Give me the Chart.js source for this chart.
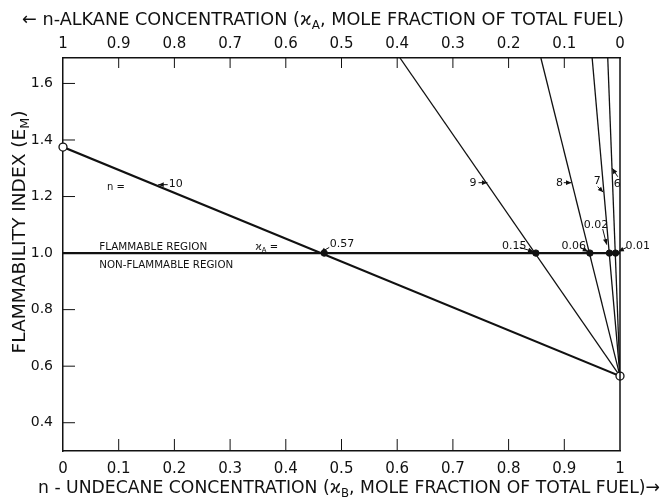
<!DOCTYPE html>
<html>
<head>
<meta charset="utf-8">
<script src="https://cdn.jsdelivr.net/npm/chart.js@4.4.0/dist/chart.umd.min.js"></script>
<style>
  html, body { margin: 0; padding: 0; background: #fff; }
  #wrap { width: 664px; height: 498px; }
</style>
</head>
<body>
<div id="wrap"><canvas id="graficoInflamabilidade"></canvas></div>
<script>
/* ---------------------------------------------------------
   Flammability index of n-alkane / n-undecane mixtures
   --------------------------------------------------------- */

// carbon number of the n-alkane for each line
const carbonNumbers = [10, 9, 8, 7, 6];
// where each line enters the plot (x_B, E_M)
const lineStartX = [0, 0.605, 0.858, 0.950, 0.978];
const lineStartY = [1.375, 1.69, 1.69, 1.69, 1.69];
// all lines end at pure n-undecane
const undecaneX = 1;
const undecaneY = 0.565;
// crossings of the E_M = 1 boundary and their x_A labels
const boundaryY = 1.0;
const crossX = [0.469, 0.849, 0.946, 0.981, 0.992];
const crossLabels = ['0.57', '0.15', '0.06', '0.02', '0.01'];

const xTicks = [0, 0.1, 0.2, 0.3, 0.4, 0.5, 0.6, 0.7, 0.8, 0.9, 1];
const yTicks = [0.4, 0.6, 0.8, 1.0, 1.2, 1.4, 1.6];

const tinta = '#111';
const fonte = 'DejaVu Sans';
Chart.defaults.font.family = fonte;
Chart.defaults.color = tinta;

const fmtX = v => (v === 0 ? '0' : v === 1 ? '1' : v.toFixed(1));

/* --------- datasets --------- */
const datasets = [];
datasets.push({
  label: 'boundary',
  data: [{ x: 0, y: boundaryY }, { x: 1, y: boundaryY }],
  borderWidth: 2.2, order: 2
});
carbonNumbers.forEach((n, i) => {
  datasets.push({
    label: 'n = ' + n,
    data: [{ x: lineStartX[i], y: lineStartY[i] }, { x: undecaneX, y: undecaneY }],
    borderWidth: i === 0 ? 2.2 : 1.3, order: 2
  });
});
datasets.push({
  label: 'crossings', showLine: false, clip: false, order: 1,
  data: crossX.map(x => ({ x: x, y: boundaryY })),
  pointRadius: 3.2, pointBackgroundColor: tinta, pointBorderColor: tinta
});
datasets.push({
  label: 'pure fuels', showLine: false, clip: false, order: 0,
  data: [{ x: lineStartX[0], y: lineStartY[0] }, { x: undecaneX, y: undecaneY }],
  pointRadius: 4, pointBackgroundColor: '#fff', pointBorderColor: tinta, pointBorderWidth: 1.3
});
datasets.forEach(d => {
  d.borderColor = d.borderColor || tinta;
  d.showLine = d.showLine !== false;
  if (d.pointRadius === undefined) d.pointRadius = 0;
});

/* --------- text, arrows, inward ticks --------- */
function richText(ctx, parts, size, x, y, width, align) {
  // parts: [text, isSubscript]
  const fnt = s => size * (s ? 0.68 : 1) + 'px "' + fonte + '"';
  let total = 0;
  parts.forEach(p => { ctx.font = fnt(p[1]); total += ctx.measureText(p[0]).width; });
  const k = width ? width / total : 1;
  const w = total * k;
  let x0 = align === 'center' ? x - w / 2 : align === 'right' ? x - w : x;
  ctx.save();
  ctx.translate(x0, y);
  ctx.scale(k, 1);
  ctx.textBaseline = 'middle';
  ctx.textAlign = 'left';
  let cx = 0;
  parts.forEach(p => {
    ctx.font = fnt(p[1]);
    ctx.fillText(p[0], cx, p[1] ? size * 0.3 : 0);
    cx += ctx.measureText(p[0]).width;
  });
  ctx.restore();
}

function arrow(ctx, x1, y1, x2, y2) {
  const a = Math.atan2(y2 - y1, x2 - x1);
  ctx.beginPath();
  ctx.moveTo(x1, y1); ctx.lineTo(x2, y2); ctx.stroke();
  ctx.beginPath();
  ctx.moveTo(x2, y2);
  ctx.lineTo(x2 - 6 * Math.cos(a - 0.4), y2 - 6 * Math.sin(a - 0.4));
  ctx.lineTo(x2 - 6 * Math.cos(a + 0.4), y2 - 6 * Math.sin(a + 0.4));
  ctx.closePath(); ctx.fill();
}

const decoracao = {
  id: 'decoracao',
  afterDraw(chart) {
    const { ctx, chartArea: a, scales: { x, x2, y } } = chart;
    const P = (vx, vy) => [x.getPixelForValue(vx), y.getPixelForValue(vy)];
    ctx.save();
    ctx.strokeStyle = tinta; ctx.fillStyle = tinta; ctx.lineWidth = 1;

    // right edge of the frame
    ctx.lineWidth = 1.5;
    ctx.beginPath(); ctx.moveTo(a.right, a.top); ctx.lineTo(a.right, a.bottom); ctx.stroke();

    // inward tick marks
    ctx.lineWidth = 1;
    xTicks.forEach(v => {
      if (v === 0 || v === 1) return;
      const px = x.getPixelForValue(v);
      ctx.beginPath(); ctx.moveTo(px, a.bottom); ctx.lineTo(px, a.bottom - 12); ctx.stroke();
      const pt = x2.getPixelForValue(v);
      ctx.beginPath(); ctx.moveTo(pt, a.top); ctx.lineTo(pt, a.top + 10); ctx.stroke();
    });
    yTicks.forEach(v => {
      const py = y.getPixelForValue(v);
      ctx.beginPath(); ctx.moveTo(a.left, py); ctx.lineTo(a.left + 12, py); ctx.stroke();
    });

    // axis titles
    richText(ctx, [['\u2190 n-ALKANE CONCENTRATION (\u03f0', false], ['A', true],
      [', MOLE FRACTION OF TOTAL FUEL)', false]], 18, 22, 20, 602, 'left');
    richText(ctx, [['n - UNDECANE CONCENTRATION (\u03f0', false], ['B', true],
      [', MOLE FRACTION OF TOTAL FUEL)\u2192', false]], 18, 38, 488, 622, 'left');
    ctx.save();
    ctx.translate(21, 232);
    ctx.rotate(-Math.PI / 2);
    richText(ctx, [['FLAMMABILITY INDEX (E', false], ['M', true], [')', false]], 17, 0, 0, 243, 'center');
    ctx.restore();

    // region labels
    let p = P(0.065, 1.02);
    richText(ctx, [['FLAMMABLE REGION', false]], 10, p[0], p[1], 108, 'left');
    p = P(0.065, 0.958);
    richText(ctx, [['NON-FLAMMABLE REGION', false]], 10, p[0], p[1], 134, 'left');
    p = P(0.345, 1.02);
    richText(ctx, [['\u03f0', false], ['A', true], [' =', false]], 10, p[0], p[1], 0, 'left');

    // crossing labels (x_A at the boundary)
    const crossLabelPos = [[0.479, 1.03], [0.788, 1.025], [0.895, 1.025], [0.935, 1.10], [1.01, 1.025]];
    const crossArrow = [[0.478, 1.02, 0.462, 1.002], [0.82, 1.02, 0.845, 1.005],
      [0.928, 1.02, 0.943, 1.005], [0.969, 1.085, 0.976, 1.03], [1.012, 1.02, 0.997, 1.006]];
    crossLabels.forEach((t, i) => {
      const q = P(crossLabelPos[i][0], crossLabelPos[i][1]);
      richText(ctx, [[t, false]], 11, q[0], q[1], 0, 'left');
      const s = P(crossArrow[i][0], crossArrow[i][1]), e = P(crossArrow[i][2], crossArrow[i][3]);
      arrow(ctx, s[0], s[1], e[0], e[1]);
    });

    // carbon-number labels
    p = P(0.079, 1.231);
    richText(ctx, [['n =', false]], 10, p[0], p[1], 0, 'left');
    const nLabelPos = [[0.19, 1.245], [0.73, 1.249], [0.885, 1.249], [0.953, 1.255], [0.989, 1.245]];
    const nArrow = [[0.188, 1.242, 0.171, 1.242], [0.746, 1.249, 0.762, 1.249],
      [0.899, 1.249, 0.913, 1.249], [0.96, 1.235, 0.97, 1.215], [0.996, 1.27, 0.986, 1.30]];
    carbonNumbers.forEach((n, i) => {
      const q = P(nLabelPos[i][0], nLabelPos[i][1]);
      richText(ctx, [[String(n), false]], 11, q[0], q[1], 0, 'left');
      const s = P(nArrow[i][0], nArrow[i][1]), e = P(nArrow[i][2], nArrow[i][3]);
      arrow(ctx, s[0], s[1], e[0], e[1]);
    });
    ctx.restore();
  }
};

/* --------- chart --------- */
new Chart(document.getElementById('graficoInflamabilidade'), {
  type: 'scatter',
  data: { datasets: datasets },
  options: {
    responsive: true,
    maintainAspectRatio: false,
    animation: false,
    layout: { padding: { left: 0, right: 44, top: 0, bottom: 0 } },
    plugins: { legend: { display: false }, tooltip: { enabled: false } },
    scales: {
      x: {
        type: 'linear', position: 'bottom', min: 0, max: 1,
        afterBuildTicks: s => { s.ticks = xTicks.map(v => ({ value: v })); },
        afterFit: s => { s.height = 47; },
        grid: { display: false, drawTicks: false },
        border: { display: true, color: tinta, width: 1.5 },
        ticks: { font: { size: 15 }, padding: 9, maxRotation: 0, callback: v => fmtX(v) }
      },
      x2: {
        type: 'linear', position: 'top', min: 0, max: 1, reverse: true,
        afterBuildTicks: s => { s.ticks = xTicks.map(v => ({ value: v })); },
        afterFit: s => { s.height = 58; },
        grid: { display: false, drawTicks: false },
        border: { display: true, color: tinta, width: 1.5 },
        ticks: { font: { size: 15 }, padding: 5, maxRotation: 0, callback: v => fmtX(v) }
      },
      y: {
        type: 'linear', min: 0.3, max: 1.69,
        afterBuildTicks: s => { s.ticks = yTicks.map(v => ({ value: v })); },
        afterFit: s => { s.width = 63; },
        grid: { display: false, drawTicks: false },
        border: { display: true, color: tinta, width: 1.5 },
        ticks: { font: { size: 14 }, padding: 10, callback: v => v.toFixed(1) }
      }
    }
  },
  plugins: [decoracao]
});
</script>
</body>
</html>
